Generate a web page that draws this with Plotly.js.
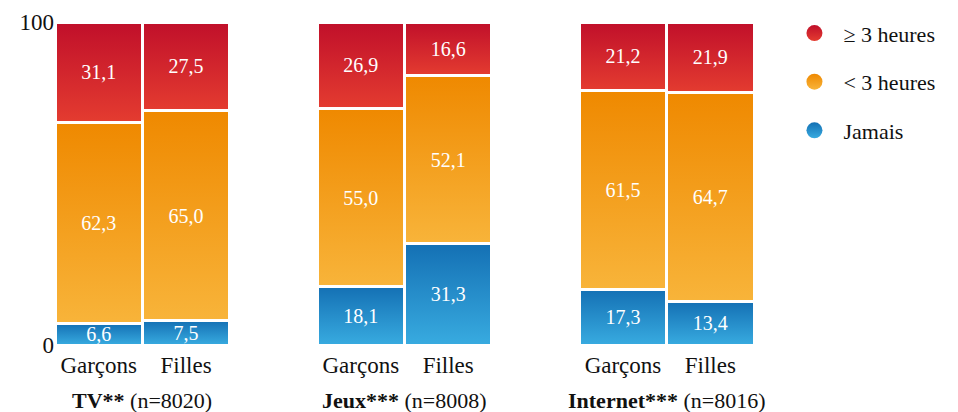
<!DOCTYPE html>
<html>
<head>
<meta charset="utf-8">
<script src="https://cdn.plot.ly/plotly-3.0.1.min.js"></script>
<style>
html,body{margin:0;padding:0;background:#fff;}
#chart{width:958px;height:412px;}
#chart text{font-family:'Liberation Serif', serif !important;}
#chart path[style*="rgb(213, 42, 44)"]{fill:url(#gradRed) !important;}
#chart path[style*="rgb(243, 158, 27)"]{fill:url(#gradOrange) !important;}
#chart path[style*="rgb(37, 144, 205)"]{fill:url(#gradBlue) !important;}
</style>
</head>
<body>
<svg width="0" height="0" style="position:absolute">
  <defs>
    <linearGradient id="gradRed" x1="0" y1="0" x2="0" y2="1">
      <stop offset="0" stop-color="#c00f2a"/><stop offset="1" stop-color="#e43c30"/>
    </linearGradient>
    <linearGradient id="gradOrange" x1="0" y1="0" x2="0" y2="1">
      <stop offset="0" stop-color="#ef8900"/><stop offset="1" stop-color="#f8b43a"/>
    </linearGradient>
    <linearGradient id="gradBlue" x1="0" y1="0" x2="0" y2="1">
      <stop offset="0" stop-color="#1470b4"/><stop offset="1" stop-color="#38abe0"/>
    </linearGradient>
  </defs>
</svg>
<div id="chart"></div>
<script>
// ---- data ----
const categories = ['Garçons', 'Filles'];
const groupNames = ['TV**', 'Jeux***', 'Internet***'];
const sampleSizes = [8020, 8008, 8016];
const seriesNames = ['Jamais', '< 3 heures', '\u2265 3 heures'];
const jamais = [6.6, 7.5, 18.1, 31.3, 17.3, 13.4];
const moins3 = [62.3, 65.0, 55.0, 52.1, 61.5, 64.7];
const plus3 = [31.1, 27.5, 26.9, 16.6, 21.2, 21.9];
const yTicks = [0, 100];

// ---- styling ----
const FONT = 'Liberation Serif';
const colors = ['#2590cd', '#f39e1b', '#d52a2c'];
const GROUP_STEP = 3;

const xPos = [];
const tickText = [];
groupNames.forEach((g, gi) => {
  categories.forEach((c, ci) => {
    xPos.push(gi * GROUP_STEP + ci);
    tickText.push(c);
  });
});

const fmt = v => v.toFixed(1).replace('.', ',');
const seriesValues = [jamais, moins3, plus3];

const traces = [];
seriesValues.forEach((vals, si) => {
  traces.push({
    type: 'bar',
    x: xPos,
    y: vals,
    name: seriesNames[si],
    legendgroup: 'g' + si,
    showlegend: false,
    marker: {color: colors[si], line: {color: '#ffffff', width: 3}},
    text: vals.map(fmt),
    textposition: 'inside',
    insidetextanchor: 'middle',
    constraintext: 'none',
    textangle: 0,
    textfont: {family: FONT, size: 20, color: '#ffffff'},
    insidetextfont: {family: FONT, size: 20, color: '#ffffff'},
    hoverinfo: 'name+y'
  });
});
// legend entries (circles)
[2, 1, 0].forEach(si => {
  traces.push({
    type: 'scatter',
    mode: 'markers',
    x: [null], y: [null],
    name: seriesNames[si],
    legendgroup: 'g' + si,
    showlegend: true,
    marker: {color: colors[si], size: 16, symbol: 'circle'}
  });
});

const annotations = groupNames.map((g, gi) => ({
  xref: 'x', yref: 'paper',
  x: gi * GROUP_STEP + 0.5,
  y: -0.171,
  yanchor: 'middle',
  text: '<b>' + g + '</b> (n=' + sampleSizes[gi] + ')',
  showarrow: false,
  font: {family: FONT, size: 22, color: '#111'}
}));

const layout = {
  width: 958, height: 412,
  margin: {l: 55, r: 204, t: 17, b: 67},
  paper_bgcolor: '#ffffff', plot_bgcolor: '#ffffff',
  barmode: 'stack',
  bargap: 0,
  font: {family: FONT, size: 22, color: '#111'},
  xaxis: {
    range: [-0.5, 7.5],
    tickvals: xPos,
    ticktext: tickText,
    showgrid: false, zeroline: false, showline: false, ticks: '',
    ticklabelstandoff: 4,
    tickfont: {family: FONT, size: 23, color: '#111'},
    fixedrange: true
  },
  yaxis: {
    range: [0, 100],
    tickvals: yTicks,
    ticktext: yTicks.map(String),
    showgrid: false, zeroline: false, showline: false, ticks: '',
    tickfont: {family: FONT, size: 23, color: '#111'},
    fixedrange: true
  },
  showlegend: true,
  legend: {
    x: 1.045, xanchor: 'left', y: 1.03, yanchor: 'top',
    traceorder: 'grouped',
    tracegroupgap: 17,
    itemwidth: 48,
    font: {family: FONT, size: 22, color: '#111'},
    bgcolor: 'rgba(0,0,0,0)'
  },
  annotations: annotations
};

Plotly.newPlot('chart', traces, layout, {displayModeBar: false, staticPlot: true});
</script>
</body>
</html>
